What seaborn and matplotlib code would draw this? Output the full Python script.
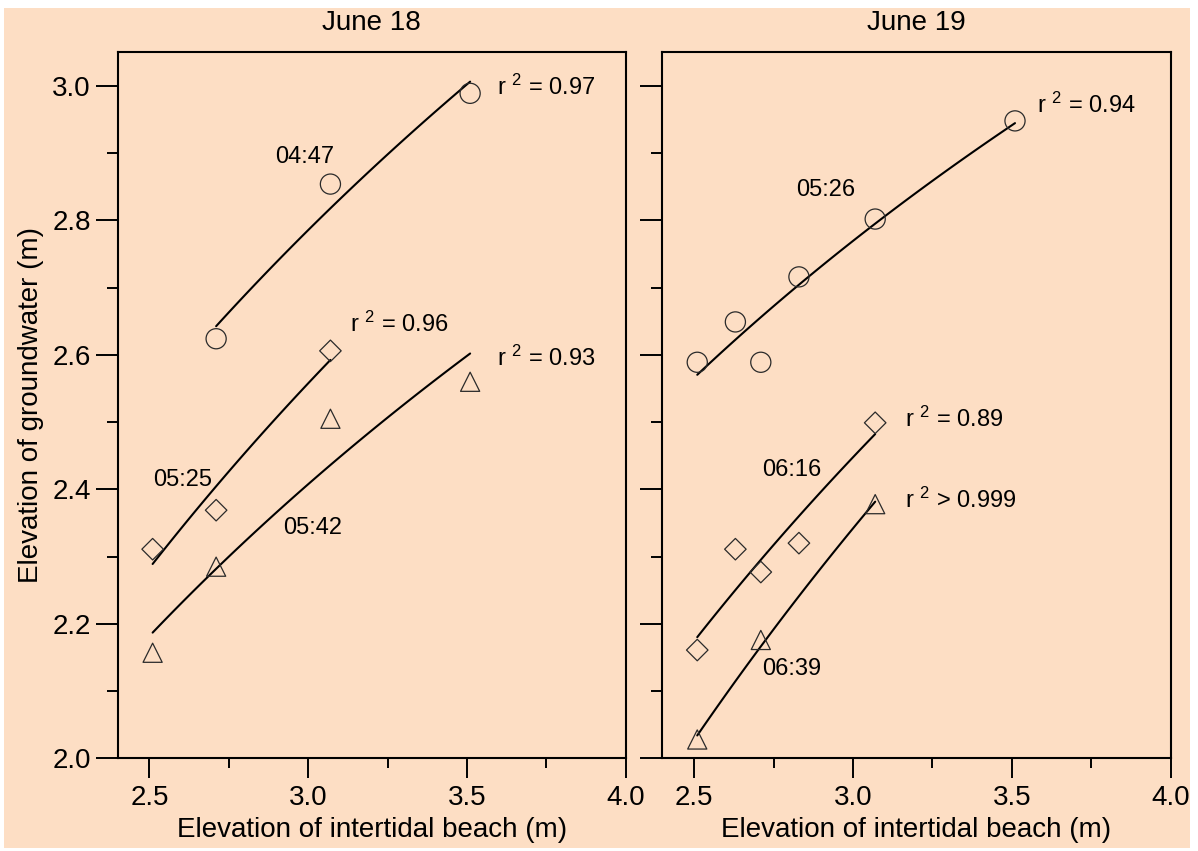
import numpy as np
import matplotlib
matplotlib.use("Agg")
import matplotlib.pyplot as plt
from matplotlib.patches import Rectangle
from matplotlib.ticker import FixedLocator
import seaborn as sns

# June 18 data
jun18_circle_x = [2.71, 3.07, 3.51]
jun18_circle_y = [2.624, 2.854, 2.989]
jun18_diamond_x = [2.51, 2.71, 3.07]
jun18_diamond_y = [2.311, 2.369, 2.606]
jun18_triangle_x = [2.51, 2.71, 3.07, 3.51]
jun18_triangle_y = [2.157, 2.285, 2.505, 2.560]

# June 19 data
jun19_circle_x = [2.51, 2.63, 2.71, 2.83, 3.07, 3.51]
jun19_circle_y = [2.589, 2.649, 2.589, 2.716, 2.802, 2.948]
jun19_diamond_x = [2.51, 2.63, 2.71, 2.83, 3.07]
jun19_diamond_y = [2.161, 2.311, 2.277, 2.320, 2.499]
jun19_triangle_x = [2.51, 2.71, 3.07]
jun19_triangle_y = [2.028, 2.176, 2.378]

titles = ["June 18", "June 19"]
xticks = [2.5, 3.0, 3.5, 4.0]
yticks = [2.0, 2.2, 2.4, 2.6, 2.8, 3.0]

peach = "#FDDEC4"

sns.set_style("ticks")
plt.rcParams["font.family"] = ["Liberation Sans", "DejaVu Sans"]
plt.rcParams["mathtext.default"] = "regular"
plt.rcParams["text.color"] = "black"
plt.rcParams["axes.labelcolor"] = "black"
plt.rcParams["xtick.color"] = "black"
plt.rcParams["ytick.color"] = "black"

fig = plt.figure(figsize=(11.98, 8.51), dpi=100, facecolor="white")
fig.patches.append(Rectangle((4 / 1198, 1 - 848 / 851), 1186 / 1198, 840 / 851,
                             transform=fig.transFigure, facecolor=peach,
                             edgecolor="none", zorder=-10))

ax1 = fig.add_axes([0.09825, 0.10893, 0.42404, 0.82961])
ax2 = fig.add_axes([0.55284, 0.10893, 0.42437, 0.82961])

series = [
    [(jun18_circle_x, jun18_circle_y, "o"),
     (jun18_diamond_x, jun18_diamond_y, "D"),
     (jun18_triangle_x, jun18_triangle_y, "^")],
    [(jun19_circle_x, jun19_circle_y, "o"),
     (jun19_diamond_x, jun19_diamond_y, "D"),
     (jun19_triangle_x, jun19_triangle_y, "^")],
]
msize = {"o": 210, "D": 120, "^": 190}

for ax, ser, title in zip([ax1, ax2], series, titles):
    ax.set_facecolor(peach)
    for x, y, m in ser:
        # log-x least squares fit line, as in the original figure
        sns.regplot(x=np.array(x), y=np.array(y), logx=True, ci=None,
                    scatter=False, ax=ax,
                    line_kws=dict(color="black", lw=1.5, zorder=2))
        sns.scatterplot(x=x, y=y, marker=m, s=msize[m], facecolors="none",
                        edgecolor="#2a2a2a", linewidth=0.9, ax=ax, zorder=3)
    ax.set_xlim(2.4, 4.0)
    ax.set_ylim(2.0, 3.05)
    ax.xaxis.set_major_locator(FixedLocator(xticks))
    ax.xaxis.set_minor_locator(FixedLocator([2.75, 3.25, 3.75]))
    ax.yaxis.set_major_locator(FixedLocator(yticks))
    ax.yaxis.set_minor_locator(FixedLocator([2.1, 2.3, 2.5, 2.7, 2.9]))
    ax.tick_params(axis="x", which="major", length=14.4, width=1.4,
                   direction="out", labelsize=20, pad=5, color="black")
    ax.tick_params(axis="x", which="minor", length=7, width=1.4,
                   direction="out", color="black")
    ax.tick_params(axis="y", which="major", length=15.8, width=1.4,
                   direction="out", labelsize=20, pad=3.5, color="black")
    ax.tick_params(axis="y", which="minor", length=8, width=1.4,
                   direction="out", color="black")
    for sp in ax.spines.values():
        sp.set_visible(True)
        sp.set_linewidth(1.5)
        sp.set_color("black")
    ax.set_xticklabels(["2.5", "3.0", "3.5", "4.0"])
    ax.set_xlabel("Elevation of intertidal beach (m)", fontsize=20, labelpad=4)
    ax.set_title(title, fontsize=20, pad=16)

ax1.set_yticklabels(["2.0", "2.2", "2.4", "2.6", "2.8", "3.0"])
ax1.set_ylabel("Elevation of groundwater (m)", fontsize=20, labelpad=6)
ax2.set_yticklabels([])
ax2.set_ylabel("")

fs = 17
# June 18 annotations
ax1.text(2.99, 2.894, "04:47", fontsize=fs, ha="center", va="center")
ax1.text(3.594, 2.998, r"r $^{2}$ = 0.97", fontsize=fs, ha="left", va="center")
ax1.text(3.131, 2.645, r"r $^{2}$ = 0.96", fontsize=fs, ha="left", va="center")
ax1.text(3.594, 2.595, r"r $^{2}$ = 0.93", fontsize=fs, ha="left", va="center")
ax1.text(2.603, 2.414, "05:25", fontsize=fs, ha="center", va="center")
ax1.text(3.014, 2.342, "05:42", fontsize=fs, ha="center", va="center")

# June 19 annotations
ax2.text(3.58, 2.971, r"r $^{2}$ = 0.94", fontsize=fs, ha="left", va="center")
ax2.text(2.915, 2.845, "05:26", fontsize=fs, ha="center", va="center")
ax2.text(3.165, 2.504, r"r $^{2}$ = 0.89", fontsize=fs, ha="left", va="center")
ax2.text(2.806, 2.429, "06:16", fontsize=fs, ha="center", va="center")
ax2.text(3.165, 2.384, r"r $^{2}$ > 0.999", fontsize=fs, ha="left", va="center")
ax2.text(2.806, 2.133, "06:39", fontsize=fs, ha="center", va="center")

fig.savefig("out.png", dpi=100, facecolor=fig.get_facecolor())
